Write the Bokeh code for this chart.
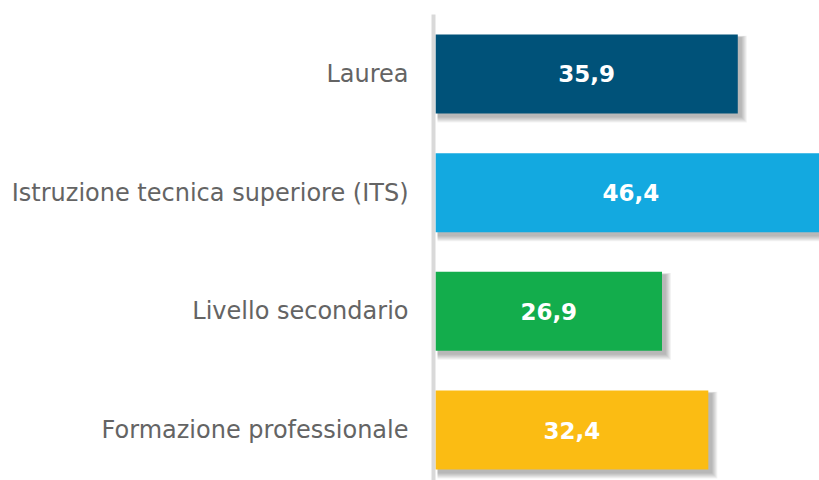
from bokeh.plotting import figure
from bokeh.models import Range1d, FixedTicker, ColumnDataSource
from bokeh.core.properties import value
from bokeh.embed import file_html
from bokeh.resources import INLINE

categories = ["Laurea", "Istruzione tecnica superiore (ITS)", "Livello secondario", "Formazione professionale"]
values = [35.9, 46.4, 26.9, 32.4]
colors = ["#005279", "#13A9E0", "#13AD4C", "#FBBC13"]

W, H = 819, 480
FRAME_LEFT = 433
TOP = 14
px_x = 8.42     # pixels per unit on x
px_y = 118.67   # pixels per category on y

ypos = list(range(len(categories)))
labels = [f"{v:.1f}".replace(".", ",") for v in values]

x0 = -2 / px_x
x1 = x0 + (W - FRAME_LEFT) / px_x
p = figure(width=W, height=H, output_backend="svg", toolbar_location=None,
           x_range=Range1d(x0, x1), y_range=Range1d(3 + 50.5 / px_y, -59.5 / px_y),
           min_border_left=FRAME_LEFT, min_border_right=0, min_border_top=TOP, min_border_bottom=0)
p.outline_line_color = None
p.grid.visible = False
p.xaxis.visible = False
p.background_fill_color = "white"
p.border_fill_color = "white"

yax = p.yaxis[0]
yax.ticker = FixedTicker(ticks=ypos)
yax.major_label_overrides = {i: c for i, c in zip(ypos, categories)}
yax.axis_line_color = "#d9d9d9"
yax.axis_line_width = 4
yax.major_tick_line_color = None
yax.minor_tick_line_color = None
yax.major_tick_out = 0
yax.major_tick_in = 0
yax.major_label_standoff = 25
yax.major_label_text_font = "DejaVu Sans"
yax.major_label_text_font_size = "24px"
yax.major_label_text_color = "#646464"

src = ColumnDataSource(dict(y=ypos, v=values, c=colors, lab=labels, mid=[v / 2 for v in values]))

bar_h = 79 / px_y
# soft drop shadow
for s in range(1, 7):
    src_s = ColumnDataSource(dict(
        left=[0 + 2 / px_x for _ in values],
        right=[v + (3 + s) / px_x for v in values],
        top=[y - bar_h / 2 + (3 - s * 0.3) / px_y for y in ypos],
        bottom=[y + bar_h / 2 + (3 + s) / px_y for y in ypos],
    ))
    p.quad(left="left", right="right", top="top", bottom="bottom", source=src_s,
           fill_color="black", fill_alpha=0.05, line_color=None)

p.hbar(y="y", right="v", left=0, height=bar_h, fill_color="c", line_color=None, source=src)
p.text(x="mid", y="y", text="lab", source=src, text_color="white",
       text_font=value("DejaVu Sans"), text_font_style="bold", text_font_size="23px",
       text_align="center", text_baseline="middle")

open("out.html", "w").write(file_html(p, INLINE))
